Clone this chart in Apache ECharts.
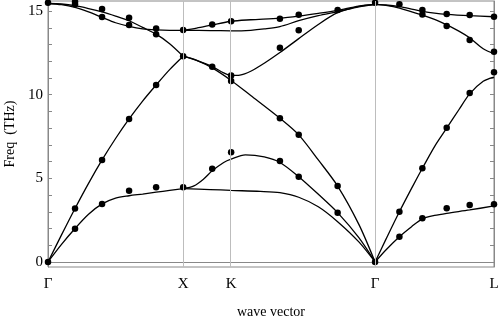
<!DOCTYPE html>
<html>
<head>
<meta charset="utf-8">
<script src="https://cdn.jsdelivr.net/npm/echarts@6/dist/echarts.min.js"></script>
<style>
  html, body { margin: 0; padding: 0; background: #fff; }
  #chart { width: 498px; height: 320px; }
</style>
</head>
<body>
<div id="chart"></div>
<script>
// high symmetry points along the path
const symPos = [0, 1, 1.355, 2.42, 3.3];
const symNames = ['Γ', 'X', 'K', 'Γ', 'L'];
const freqTicks = [0, 1, 2, 3, 4, 5, 6, 7, 8, 9, 10, 11, 12, 13, 14, 15];
const freqLabels = [0, 5, 10, 15];

// calculated branches, Γ - X
const gxTA = [[0, 0], [0.1, 1.05], [0.2, 2.0], [0.3, 2.85], [0.4, 3.47], [0.5, 3.82], [0.6, 3.96], [0.7, 4.06], [0.8, 4.17], [0.9, 4.28], [1.0, 4.38]];
const gxLA = [[0, 0], [0.1, 1.62], [0.2, 3.2], [0.3, 4.7], [0.4, 6.1], [0.5, 7.38], [0.6, 8.55], [0.7, 9.62], [0.8, 10.58], [0.9, 11.5], [1.0, 12.3]];
const gxTO = [[0, 15.45], [0.1, 15.38], [0.2, 15.22], [0.3, 14.95], [0.4, 14.62], [0.5, 14.3], [0.6, 14.08], [0.7, 13.93], [0.8, 13.87], [0.9, 13.85], [1.0, 13.85]];
const gxLO = [[0, 15.45], [0.1, 15.42], [0.2, 15.32], [0.3, 15.15], [0.4, 14.95], [0.5, 14.7], [0.6, 14.42], [0.7, 14.02], [0.8, 13.62], [0.9, 13.05], [1.0, 12.3]];

// X - K - Γ
const xkTop1 = [[1.0, 13.85], [1.1, 13.98], [1.215, 14.17], [1.355, 14.39], [1.5, 14.48], [1.716, 14.58], [1.855, 14.7], [2.0, 14.86], [2.143, 15.04], [2.3, 15.3], [2.42, 15.4]];
const xkTop2 = [[1.0, 13.85], [1.2, 13.83], [1.355, 13.82], [1.5, 13.85], [1.6, 13.93], [1.716, 14.07], [1.855, 14.42], [2.0, 14.72], [2.143, 14.96], [2.3, 15.25], [2.42, 15.4]];
const xkOptA = [[1.0, 12.3], [1.1, 12.05], [1.215, 11.68], [1.3, 11.3], [1.355, 11.15], [1.42, 11.17], [1.5, 11.4], [1.6, 11.88], [1.716, 12.52], [1.855, 13.35], [2.0, 14.2], [2.143, 14.9], [2.3, 15.28], [2.42, 15.4]];
const xkLA = [[1.0, 12.3], [1.1, 12.05], [1.215, 11.6], [1.355, 10.85], [1.5, 9.95], [1.716, 8.59], [1.855, 7.6], [2.0, 6.1], [2.143, 4.54], [2.3, 2.25], [2.42, 0]];
const xkTA1 = [[1.0, 4.38], [1.08, 4.55], [1.15, 4.95], [1.215, 5.45], [1.3, 5.95], [1.355, 6.15], [1.46, 6.4], [1.6, 6.28], [1.716, 5.95], [1.855, 5.1], [2.0, 4.05], [2.143, 2.95], [2.3, 1.45], [2.42, 0]];
const xkTA2 = [[1.0, 4.38], [1.2, 4.33], [1.355, 4.28], [1.57, 4.22], [1.716, 4.14], [1.855, 3.87], [2.0, 3.3], [2.143, 2.41], [2.3, 1.2], [2.42, 0]];

// Γ - L
const glTO = [[2.42, 15.4], [2.5, 15.36], [2.6, 15.26], [2.7, 15.1], [2.77, 14.98], [2.86, 14.87], [2.95, 14.8], [3.12, 14.72], [3.3, 14.66]];
const glLO = [[2.42, 15.4], [2.5, 15.34], [2.6, 15.18], [2.77, 14.76], [2.86, 14.5], [2.95, 14.17], [3.04, 13.8], [3.12, 13.4], [3.22, 12.75], [3.3, 12.45]];
const glLA = [[2.42, 0], [2.5, 1.35], [2.6, 3.0], [2.7, 4.55], [2.77, 5.6], [2.86, 6.9], [2.95, 8.0], [3.04, 9.1], [3.12, 10.05], [3.22, 10.8], [3.3, 11.05]];
const glTA = [[2.42, 0], [2.5, 0.72], [2.6, 1.51], [2.69, 2.11], [2.77, 2.58], [2.86, 2.78], [2.95, 2.91], [3.12, 3.11], [3.3, 3.35]];

// measured points
const ptsGX = [
  [0, 15.5], [0, 0],
  [0.2, 15.55], [0.2, 15.4], [0.2, 3.19], [0.2, 1.99],
  [0.4, 15.12], [0.4, 14.64], [0.4, 6.1], [0.4, 3.47],
  [0.6, 14.6], [0.6, 14.17], [0.6, 8.55], [0.6, 4.26],
  [0.8, 13.95], [0.8, 13.61], [0.8, 10.58], [0.8, 4.46],
  [1.0, 13.87], [1.0, 12.3], [1.0, 4.46]
];
const ptsXK = [
  [1.215, 14.19], [1.215, 11.67], [1.215, 5.58],
  [1.355, 14.39], [1.355, 11.14], [1.355, 10.82], [1.355, 6.56],
  [1.716, 14.54], [1.716, 12.81], [1.716, 8.59], [1.716, 6.04],
  [1.855, 14.78], [1.855, 13.85], [1.855, 7.6], [1.855, 5.1],
  [2.143, 15.06], [2.143, 4.54], [2.143, 2.95],
  [2.42, 15.5], [2.42, 0]
];
const ptsGL = [
  [2.6, 15.4], [2.6, 3.0], [2.6, 1.51],
  [2.77, 15.06], [2.77, 14.8], [2.77, 5.6], [2.77, 2.61],
  [2.95, 14.82], [2.95, 14.1], [2.95, 8.03], [2.95, 3.21],
  [3.12, 14.76], [3.12, 13.27], [3.12, 10.1], [3.12, 3.41],
  [3.3, 14.66], [3.3, 12.57], [3.3, 11.34], [3.3, 3.45]
];

const curves = [gxTA, gxLA, gxTO, gxLO, xkTop1, xkTop2, xkOptA, xkLA, xkTA1, xkTA2, glTO, glLO, glLA, glTA];

const font = 'Liberation Serif';
let myChart = echarts.init(document.getElementById('chart'));

let series = curves.map(function (c) {
  return {
    type: 'line',
    data: c,
    smooth: 0.3,
    showSymbol: false,
    silent: true,
    lineStyle: { color: '#000', width: 1.3 },
    z: 3
  };
});
series.push({
  type: 'scatter',
  data: ptsGX.concat(ptsXK, ptsGL),
  symbolSize: 6.5,
  itemStyle: { color: '#000', opacity: 1 },
  clip: false,
  z: 4
});
// vertical lines at the inner symmetry points
series.push({
  type: 'line',
  data: [],
  markLine: {
    silent: true,
    symbol: ['none', 'none'],
    label: { show: false },
    lineStyle: { color: '#bdbdbd', width: 1, type: 'solid' },
    data: symPos.slice(1, 4).map(function (v) { return { xAxis: v }; })
  },
  z: 1
});

myChart.setOption({
  animation: false,
  backgroundColor: '#fff',
  grid: {
    left: 48, right: 4, top: 1, bottom: 53,
    containLabel: false,
    outerBoundsMode: 'none',
    show: true, borderColor: '#888', borderWidth: 1
  },
  xAxis: {
    type: 'value',
    min: 0,
    max: 3.3,
    name: 'wave vector',
    nameLocation: 'middle',
    nameGap: 38,
    nameTextStyle: { fontFamily: font, fontSize: 14, color: '#000' },
    axisLine: { show: true, lineStyle: { color: '#888' } },
    axisTick: { show: false },
    splitLine: { show: false },
    axisLabel: {
      customValues: symPos,
      margin: 10,
      fontFamily: font,
      fontSize: 15,
      color: '#000',
      formatter: function (v) {
        let best = 0;
        symPos.forEach(function (p, i) {
          if (Math.abs(p - v) < Math.abs(symPos[best] - v)) best = i;
        });
        return symNames[best];
      }
    }
  },
  yAxis: [
    {
      type: 'value',
      min: -0.3,
      max: 15.6,
      name: 'Freq  (THz)',
      nameLocation: 'middle',
      nameGap: 25,
      nameTextStyle: { fontFamily: font, fontSize: 14, color: '#000' },
      axisLine: { show: true, lineStyle: { color: '#888' } },
      axisTick: { show: true, inside: true, length: 4, customValues: freqTicks, lineStyle: { color: '#888' } },
      splitLine: { show: false },
      axisLabel: { customValues: freqLabels, margin: 5, fontFamily: font, fontSize: 15, color: '#000' }
    },
    {
      type: 'value',
      position: 'right',
      min: -0.3,
      max: 15.6,
      axisLine: { show: true, lineStyle: { color: '#888' } },
      axisTick: { show: true, inside: true, length: 4, customValues: freqTicks, lineStyle: { color: '#888' } },
      splitLine: { show: false },
      axisLabel: { show: false }
    }
  ],
  series: series
});
</script>
</body>
</html>
